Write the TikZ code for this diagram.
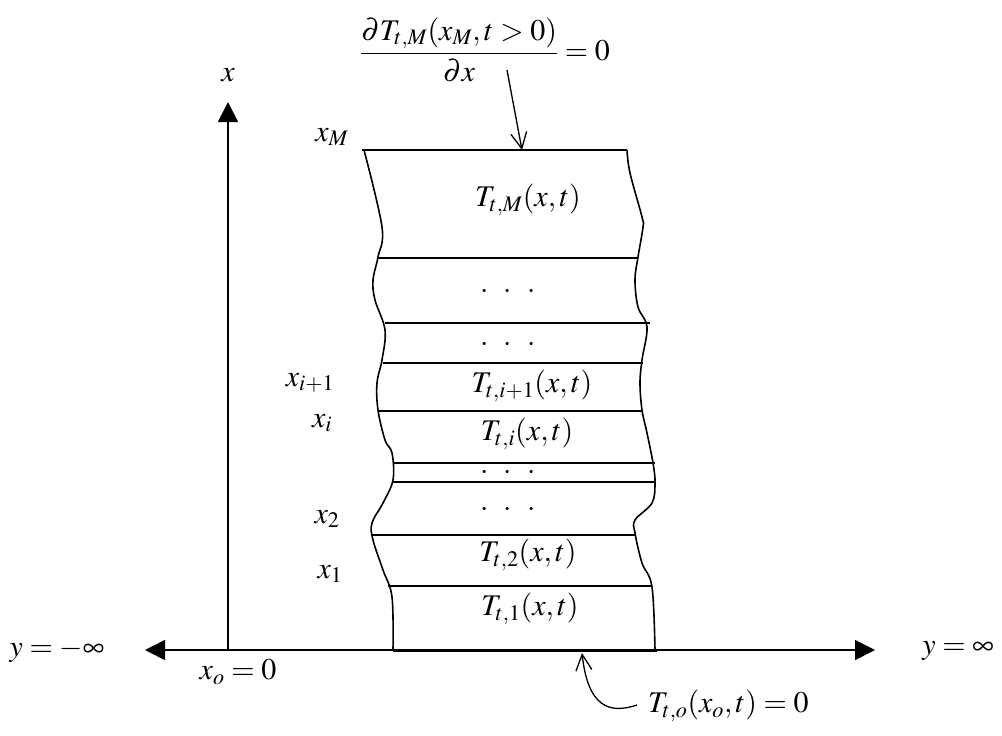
\documentclass[tikz,border=0pt]{standalone}
\usepackage{mathptmx}
\usetikzlibrary{arrows.meta}
\tikzset{
  lbl/.style={inner sep=0pt, font=\fontsize{30}{34}\selectfont},
  axis/.style={line width=1.6pt},
  edge/.style={line width=1.6pt},
  layer/.style={line width=1.3pt},
  bigtip/.style={-{Triangle[length=20pt,width=20pt]}},
  barb/.style={line width=1.3pt,-{Straight Barb[length=16pt,width=16pt]}},
}
\newcommand{\mydots}{{\cdot}\mkern9mu{\cdot}\mkern9mu{\cdot}}
\begin{document}
\begin{tikzpicture}[x=1pt,y=-1pt]
\useasboundingbox (0,0) rectangle (1002,736);
% axes
\coordinate (o) at (228,650);
\coordinate (xtop) at (228,102);
\coordinate (yl) at (145,650);
\coordinate (yr) at (875,650);
\draw[axis,bigtip] (o) -- (xtop);
\draw[axis,{Triangle[length=20pt,width=20pt]}-{Triangle[length=20pt,width=20pt]}] (yl) -- (yr);
\node[lbl] (xlab) at (228,75) {$x$};
\node[lbl] (ymin) at (57,651) {$y=-\infty$};
\node[lbl] (ypls) at (958,651) {$y=\infty$};
\node[lbl] (x0) at (238,672) {$x_o=0$};
% wavy edges
\draw[edge] plot[smooth,tension=0.6] coordinates {(364,150) (382,227) (378,257) (373,280) (375,300) (385,330) (382,360) (377,383) (378,410) (385,440) (392,453) (393,480) (383,503) (372,523) (373,540) (383,570) (392,597) (393,650)};
\draw[edge] plot[smooth,tension=0.6] coordinates {(627,150) (630,173) (642,217) (643,227) (638,257) (635,280) (638,307) (647,327) (642,360) (640,383) (642,410) (647,433) (653,463) (655,483) (652,503) (635,520) (635,533) (642,563) (652,587) (655,650)};
% layer lines
\draw[edge] (362,150) -- (627,150);
\draw[layer] (378,258) -- (638,258);
\draw[layer] (385,323) -- (650,323);
\draw[layer] (383,363) -- (643,363);
\draw[layer] (378,411) -- (642,411);
\draw[layer] (393,463) -- (655,463);
\draw[layer] (393,482) -- (655,482);
\draw[layer] (372,535) -- (635,535);
\draw[layer] (388,586) -- (652,586);
\draw[line width=3pt] (393,650) -- (657,650);
% layer texts
\node[lbl] (tM) at (528,200) {$T_{t,M}(x,t)$};
\node[lbl] (d1) at (508,292) {$\mydots$};
\node[lbl] (d2) at (508,345) {$\mydots$};
\node[lbl] (ti1) at (532,386) {$T_{t,i+1}(x,t)$};
\node[lbl] (ti) at (527,434) {$T_{t,i}(x,t)$};
\node[lbl] (d3) at (508,473) {$\mydots$};
\node[lbl] (d4) at (508,510) {$\mydots$};
\node[lbl] (t2) at (528,555) {$T_{t,2}(x,t)$};
\node[lbl] (t1) at (530,609) {$T_{t,1}(x,t)$};
% left labels
\node[lbl] (xM) at (332,137) {$x_M$};
\node[lbl] (xi1) at (310,383) {$x_{i+1}$};
\node[lbl] (xi) at (322,423) {$x_i$};
\node[lbl] (x2) at (327,519) {$x_2$};
\node[lbl] (x1) at (330,574) {$x_1$};
% top condition
\node[lbl] (top) at (485,50) {$\displaystyle\frac{\partial T_{t,M}(x_M,t>0)}{\partial x}=0$};
\coordinate (topstart) at (507,70);
\coordinate (topend) at (522,150);
\draw[barb] (topstart) -- (topend);
% bottom condition
\node[lbl,anchor=west] (bot) at (648,706) {$T_{t,o}(x_o,t)=0$};
\coordinate (botstart) at (637,705);
\coordinate (botend) at (582,653);
\draw[barb] (botstart) .. controls (610,714) and (588,708) .. (botend);
\end{tikzpicture}
\end{document}
